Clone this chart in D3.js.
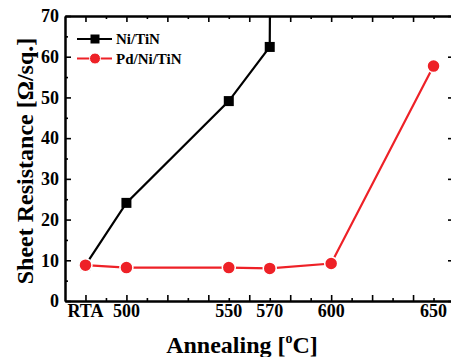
<!DOCTYPE html>
<html>
<head>
<meta charset='utf-8'>
<script src='https://cdn.jsdelivr.net/npm/d3@7'></script>
<style>
	html, body { margin: 0; padding: 0; background: #fff; overflow: hidden; }
	svg { display: block; }
</style>
</head>
<body>
<svg id='chart' width='451' height='357'></svg>
<script>
// temperatures in degC, RTA is plotted at 480
const niTemps = [480, 500, 550, 570, 580]
const niValues = [8.8, 24.1, 49.1, 62.4, 1000] // last one runs off the scale
const pdTemps = [480, 500, 550, 570, 600, 650]
const pdValues = [8.8, 8.2, 8.2, 8.0, 9.2, 57.7]

const xTickValues = [480, 500, 550, 570, 600, 650]
const xTickLabels = ['RTA', '500', '550', '570', '600', '650']
const yTickValues = [0, 10, 20, 30, 40, 50, 60, 70]

const seriesNames = ['Ni/TiN', 'Pd/Ni/TiN']

const font = "'Liberation Serif', 'Times New Roman', serif"
const red = '#ee2127'

const svg = d3.select('#chart')
const plotLeft = 65, plotRight = 454, plotTop = 16, plotBottom = 301

const x = d3.scaleLinear().domain([470, 660]).range([plotLeft, plotRight])
const y = d3.scaleLinear().domain([0, 70]).range([plotBottom, plotTop])

//Clip the lines to the plot area
svg.append('clipPath').attr('id', 'plotClip')
	.append('rect')
	.attr('x', plotLeft).attr('y', plotTop)
	.attr('width', plotRight - plotLeft).attr('height', plotBottom - plotTop)

//Inward ticks on all four sides, majors longer than minors
function styleAxis(g) {
	g.select('.domain').attr('stroke', '#000').attr('stroke-width', 2)
	g.selectAll('.tick line').attr('stroke', '#000').attr('stroke-width', 1.6)
	g.selectAll('text').remove()
}

const xMajor = d3.range(480, 661, 20)
const xMinor = d3.range(490, 661, 20)
const yMajor = d3.range(0, 71, 10)
const yMinor = d3.range(5, 71, 10)

function addAxis(axisFn, scale, transform, values, size) {
	const g = svg.append('g')
		.attr('transform', transform)
		.call(axisFn(scale).tickValues(values).tickSize(-size).tickSizeOuter(0))
	styleAxis(g)
	return g
}

addAxis(d3.axisBottom, x, 'translate(0,' + plotBottom + ')', xMajor, 6)
addAxis(d3.axisBottom, x, 'translate(0,' + plotBottom + ')', xMinor, 3)
addAxis(d3.axisTop, x, 'translate(0,' + plotTop + ')', xMajor, 6)
addAxis(d3.axisTop, x, 'translate(0,' + plotTop + ')', xMinor, 3)
addAxis(d3.axisLeft, y, 'translate(' + plotLeft + ',0)', yMajor, 6)
addAxis(d3.axisLeft, y, 'translate(' + plotLeft + ',0)', yMinor, 3)
addAxis(d3.axisRight, y, 'translate(' + plotRight + ',0)', yMajor, 6)
addAxis(d3.axisRight, y, 'translate(' + plotRight + ',0)', yMinor, 3)

//Tick labels
svg.append('g')
	.selectAll('text')
	.data(xTickValues)
	.enter()
	.append('text')
	.attr('x', d => x(d))
	.attr('y', plotBottom + 16)
	.attr('text-anchor', 'middle')
	.style('font', 'bold 18px ' + font)
	.text((d, i) => xTickLabels[i])

svg.append('g')
	.selectAll('text')
	.data(yTickValues)
	.enter()
	.append('text')
	.attr('x', plotLeft - 6)
	.attr('y', d => y(d))
	.attr('dy', '0.35em')
	.attr('text-anchor', 'end')
	.style('font', 'bold 18px ' + font)
	.text(d => d)

//Axis titles
const xTitle = svg.append('text')
	.attr('x', 242)
	.attr('y', 353)
	.attr('text-anchor', 'middle')
	.style('font', 'bold 24px ' + font)
xTitle.append('tspan').text('Annealing [')
xTitle.append('tspan').attr('dy', -10).style('font-size', '14px').text('o')
xTitle.append('tspan').attr('dy', 10).text('C]')

svg.append('text')
	.attr('transform', 'translate(33,161) rotate(-90)')
	.attr('text-anchor', 'middle')
	.style('font', 'bold 24px ' + font)
	.text('Sheet Resistance [\u03A9/sq.]')

//Series lines and markers
const line = d3.line().x(d => x(d[0])).y(d => y(d[1]))
const plot = svg.append('g').attr('clip-path', 'url(#plotClip)')

const niData = d3.zip(niTemps, niValues)
const pdData = d3.zip(pdTemps, pdValues)

plot.append('path')
	.datum(niData)
	.attr('d', line)
	.attr('fill', 'none')
	.attr('stroke', '#000')
	.attr('stroke-width', 2.2)

plot.selectAll('.sq')
	.data(niData.filter(d => d[1] <= 70))
	.enter()
	.append('rect')
	.attr('x', d => x(d[0]) - 5)
	.attr('y', d => y(d[1]) - 5)
	.attr('width', 10)
	.attr('height', 10)
	.attr('fill', '#000')

plot.append('path')
	.datum(pdData)
	.attr('d', line)
	.attr('fill', 'none')
	.attr('stroke', red)
	.attr('stroke-width', 2.2)

plot.selectAll('.dot')
	.data(pdData)
	.enter()
	.append('circle')
	.attr('cx', d => x(d[0]))
	.attr('cy', d => y(d[1]))
	.attr('r', 6.5)
	.attr('fill', red)
	.attr('stroke', '#fff')
	.attr('stroke-width', 1.5)

//Legend
const legend = svg.append('g').attr('transform', 'translate(77,39)')

const rows = legend.selectAll('g')
	.data(seriesNames)
	.enter()
	.append('g')
	.attr('transform', (d, i) => 'translate(0,' + i * 19.5 + ')')

rows.append('line')
	.attr('x1', 0).attr('x2', 35)
	.attr('stroke', (d, i) => i ? red : '#000')
	.attr('stroke-width', 2.2)

rows.filter((d, i) => i == 0)
	.append('rect')
	.attr('x', 13.5).attr('y', -4.5)
	.attr('width', 9).attr('height', 9)
	.attr('fill', '#000')

rows.filter((d, i) => i == 1)
	.append('circle')
	.attr('cx', 18).attr('r', 5.5)
	.attr('fill', red)
	.attr('stroke', '#fff')
	.attr('stroke-width', 1)

rows.append('text')
	.attr('x', 39)
	.attr('dy', '0.35em')
	.style('font', 'bold 15px ' + font)
	.text(d => d)
</script>
</body>
</html>
